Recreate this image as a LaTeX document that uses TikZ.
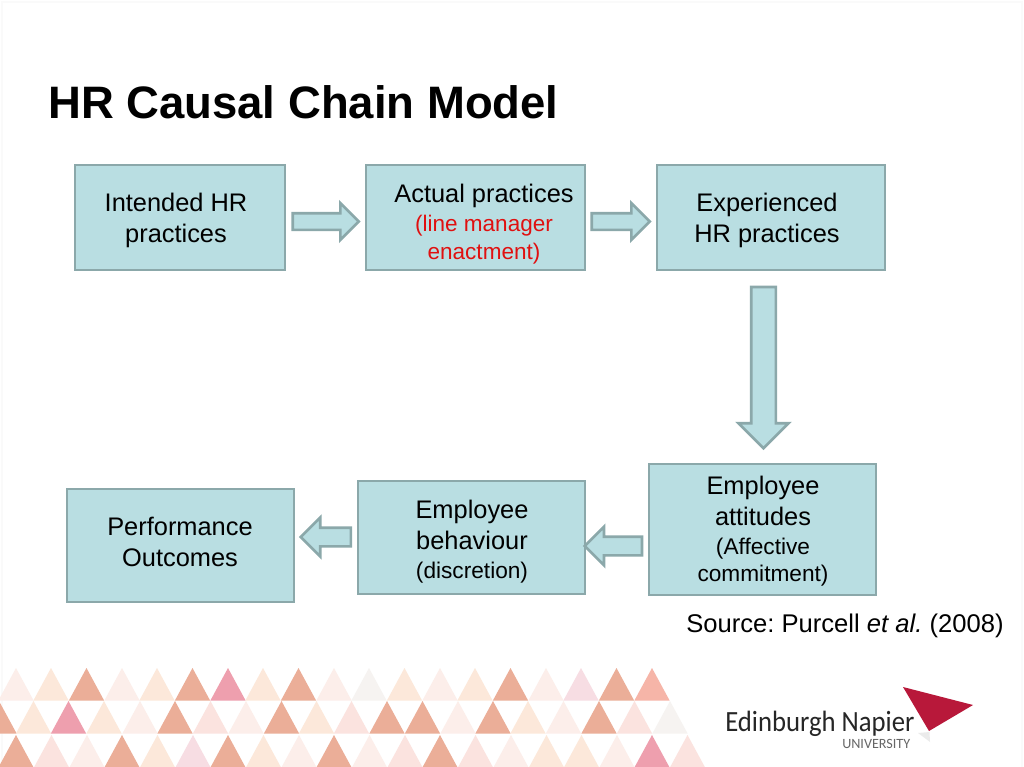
\documentclass[tikz,border=0pt]{standalone}
\usepackage{fontspec}
\usepackage{graphicx}
\setmainfont{Liberation Sans}
\newfontfamily\logofont{Carlito}
\usetikzlibrary{shapes.arrows}
\definecolor{boxfill}{HTML}{B9DEE2}
\definecolor{boxline}{HTML}{8BA8AA}
\definecolor{salmon}{HTML}{EBAE98}
\definecolor{rose}{HTML}{EE9FAE}
\definecolor{pale}{HTML}{FCEEEA}
\definecolor{cream}{HTML}{FCE8DA}
\definecolor{palepink}{HTML}{FBE3DF}
\definecolor{greyish}{HTML}{F6F3F1}
\definecolor{pinkish}{HTML}{F7DDE3}
\definecolor{coral}{HTML}{F6B5A8}
\definecolor{logored}{HTML}{B8183A}
\definecolor{edgegrey}{HTML}{FAFAFA}
\newcommand{\fsmain}{\fontsize{19.05}{23.2}\selectfont}
\newcommand{\fssub}{\fontsize{16.9}{20.8}\selectfont}
\newcommand{\fssubb}{\fontsize{17}{20.4}\selectfont}
\newcommand{\tri}[3]{\fill[#3] (#1-17.6,#2+32.5) -- (#1,#2) -- (#1+17.6,#2+32.5) -- cycle;}
\tikzset{
  box/.style={draw=boxline,fill=boxfill,line width=2pt,rectangle,inner sep=0pt},
  label/.style={align=center,inner sep=0pt,text=black,font=\fsmain},
  blockarrow/.style={single arrow,draw=boxline,fill=boxfill,line width=2pt,outer sep=0pt,anchor=center},
}
\frenchspacing
\begin{document}
\begin{tikzpicture}[x=0.75pt,y=-0.75pt]
\useasboundingbox (0,0) rectangle (1024,767);
\fill[white] (0,0) rectangle (1024,767);
\draw[edgegrey,line width=1.5pt] (2,767) -- (2,2) -- (1022,2) -- (1022,767);
% triangle band
\foreach \x/\c in {16/pale,51/cream,86.5/salmon,122/pale,157/cream,192.5/salmon,228/rose,263/cream,298.5/salmon,334/pale,369/greyish,404.5/cream,440/pale,475/cream,510.5/salmon,546/pale,581/pinkish,616.5/salmon,652/coral}{\tri{\x}{668}{\c}}
\foreach \x/\c in {-1/salmon,33.5/cream,68.5/rose,104/cream,140/pale,175/salmon,210.5/palepink,246/pale,281.5/salmon,316.5/cream,351.5/palepink,387/salmon,422.5/salmon,458/pale,493/salmon,528/cream,563.5/pale,599/salmon,634.5/palepink,670/greyish}{\tri{\x}{701}{\c}}
\foreach \x/\c in {16/salmon,51.5/palepink,87/pale,122/salmon,157.5/cream,193/pinkish,228/salmon,263.5/cream,299/pale,334/salmon,369.5/pale,405/palepink,440/salmon,475.5/palepink,511/pale,546.5/cream,581.5/cream,617/pale,652/rose,687.5/palepink}{\tri{\x}{735}{\c}}
% title
\node[anchor=base west,inner sep=0pt,font=\fontsize{34.1}{38}\selectfont\bfseries] (title) at (48,118) {HR Causal Chain Model};
% boxes
\node[box,minimum width=157.5pt,minimum height=78.75pt] (b1) at (180,217.5) {};
\node[box,minimum width=164.25pt,minimum height=78.75pt] (b2) at (475.5,217.5) {};
\node[box,minimum width=171pt,minimum height=78.75pt] (b3) at (771,217.5) {};
\node[box,minimum width=170.25pt,minimum height=98.25pt] (b4) at (762.5,529.5) {};
\node[box,minimum width=170.25pt,minimum height=84.75pt] (b5) at (471.5,537.5) {};
\node[box,minimum width=170.25pt,minimum height=84.75pt] (b6) at (180.5,545.5) {};
% texts
\node[label] (t1) at (176,220) {Intended HR\\practices};
\node[label] (t2) at (484,224) {Actual practices\\[-1.5pt]\fssub\color[HTML]{E01010}(line manager\\[-2.2pt]\fssub\color[HTML]{E01010}enactment)};
\node[label] (t3) at (767,220) {Experienced\\HR practices};
\node[label] (t4) at (763,531) {Employee\\attitudes\\[-1.5pt]\fssubb (Affective\\[-3pt]\fssubb commitment)};
\node[label] (t5) at (472,541.5) {Employee\\behaviour\\[-1.5pt]\fssubb (discretion)};
\node[label] (t6) at (180,542) {Performance\\Outcomes};
\node[anchor=base west,inner sep=0pt,font=\fontsize{19.2}{22}\selectfont] (src) at (686,632) {Source: Purcell \textit{et al.} (2008)};
% block arrows
\node[blockarrow,inner xsep=0pt,inner ysep=5.25pt,minimum height=49.5pt,minimum width=25.5pt,single arrow head extend=7.5pt] (a1) at (321.5,221.5) {};
\node[blockarrow,inner xsep=0pt,inner ysep=5.25pt,minimum height=43.5pt,minimum width=25.5pt,single arrow head extend=7.5pt] (a2) at (616.5,221.5) {};
\node[blockarrow,inner ysep=0pt,inner xsep=8.25pt,shape border rotate=270,minimum height=121pt,minimum width=36.8pt,single arrow head extend=9.6pt] (a3) at (763.5,361.5) {};
\node[blockarrow,inner xsep=0pt,inner ysep=6pt,shape border rotate=180,minimum height=37.5pt,minimum width=27pt,single arrow head extend=7.5pt] (a4) at (330.5,537) {};
\node[blockarrow,inner xsep=0pt,inner ysep=6pt,shape border rotate=180,minimum height=43pt,minimum width=27pt,single arrow head extend=7.5pt] (a5) at (618,546) {};
% logo
\fill[gray!30,opacity=.5] (918,733) -- (929.5,732) -- (930,742) -- cycle;
\fill[logored] (903,687) -- (973,705) -- (929,731) -- cycle;
\node[anchor=base west,inner sep=0pt,font=\logofont\fontsize{22}{24}\selectfont,text=black!85] (logo1) at (725,731) {\scalebox{.91}[1]{Edinburgh Napier}};
\node[anchor=base west,inner sep=0pt,font=\logofont\fontsize{10.6}{12}\selectfont,text=black!60] (logo2) at (842,748) {UNIVERSITY};
\end{tikzpicture}
\end{document}
